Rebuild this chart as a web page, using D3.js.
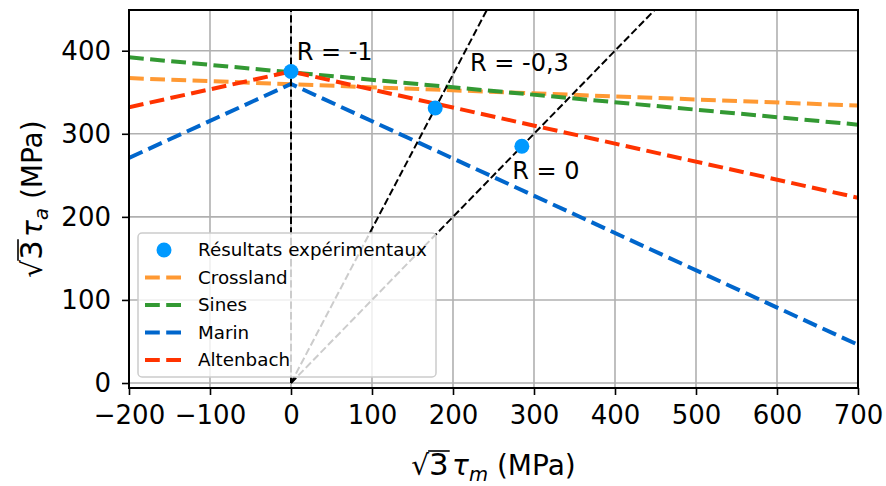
<!DOCTYPE html>
<html>
<head>
<meta charset="utf-8">
<script src="https://cdn.jsdelivr.net/npm/d3@7"></script>
<style>
  html, body { margin: 0; padding: 0; background: #fff; }
  svg { display: block; font-family: "DejaVu Sans", sans-serif; }
</style>
</head>
<body>
<svg id="chart" width="886" height="486"></svg>
<script>
// ---- data ----
const xTicks = [-200, -100, 0, 100, 200, 300, 400, 500, 600, 700];
const yTicks = [0, 100, 200, 300, 400];

const expX = [0, 178, 285];
const expY = [375, 331, 285];

const crosslandX = [-200, 700];
const crosslandY = [367, 334];
const sinesX = [-200, 700];
const sinesY = [392, 311];
const marinX = [-200, 0, 700];
const marinY = [271, 360, 46];
const altenbachX = [-200, 0, 700];
const altenbachY = [332, 375, 223];

// reference load-ratio lines (from origin)
const refLabels = ["R = -1", "R = -0,3", "R = 0"];
const refEndX = [0, 242.3, 450];
const refEndY = [450, 450, 450];
const annX = [7, 221, 273];
const annY = [389, 375, 245];

const seriesNames = ["Crossland", "Sines", "Marin", "Altenbach"];
const seriesColors = ["#ff9933", "#339933", "#0066cc", "#ff3300"];
const pointColor = "#0099ff";

// ---- layout ----
const svg = d3.select("#chart");
const L = 129, R = 858, T = 10, B = 388;
const x = d3.scaleLinear().domain([-200, 700]).range([L, R]);
const y = d3.scaleLinear().domain([-6, 449]).range([B, T]);

const defs = svg.append("defs");
defs.append("clipPath").attr("id", "clip")
  .append("rect").attr("x", L).attr("y", T).attr("width", R - L).attr("height", B - T);

// grid
const grid = svg.append("g");
grid.selectAll(".gx").data(xTicks).join("line")
  .attr("x1", d => x(d)).attr("x2", d => x(d)).attr("y1", T).attr("y2", B)
  .attr("stroke", "#b0b0b0").attr("stroke-width", 1.6);
grid.selectAll(".gy").data(yTicks).join("line")
  .attr("x1", L).attr("x2", R).attr("y1", d => y(d)).attr("y2", d => y(d))
  .attr("stroke", "#b0b0b0").attr("stroke-width", 1.6);

const plot = svg.append("g").attr("clip-path", "url(#clip)");
const line = d3.line().x(d => x(d[0])).y(d => y(d[1]));

const seriesData = [
  d3.zip(crosslandX, crosslandY),
  d3.zip(sinesX, sinesY),
  d3.zip(marinX, marinY),
  d3.zip(altenbachX, altenbachY)
];
seriesData.forEach((pts, i) => {
  plot.append("path").attr("d", line(pts))
    .attr("fill", "none").attr("stroke", seriesColors[i])
    .attr("stroke-width", 4).attr("stroke-dasharray", "14.8,6.4");
});

// reference lines
refEndX.forEach((ex, i) => {
  plot.append("path").attr("d", line([[0, 0], [ex, refEndY[i]]]))
    .attr("fill", "none").attr("stroke", "#000")
    .attr("stroke-width", 2).attr("stroke-dasharray", "7.4,3.2");
});

// experimental points
plot.selectAll(".pt").data(d3.zip(expX, expY)).join("circle")
  .attr("cx", d => x(d[0])).attr("cy", d => y(d[1])).attr("r", 7.5)
  .attr("fill", pointColor);

// annotations
refLabels.forEach((t, i) => {
  svg.append("text").attr("x", x(annX[i])).attr("y", y(annY[i]))
    .attr("font-size", 24).attr("fill", "#000").text(t);
});

// spines
svg.append("rect").attr("x", L).attr("y", T).attr("width", R - L).attr("height", B - T)
  .attr("fill", "none").attr("stroke", "#000").attr("stroke-width", 2);

// axes
const xAxis = d3.axisBottom(x).tickValues(xTicks).tickSize(7).tickPadding(11)
  .tickFormat(d => d < 0 ? "\u2212" + Math.abs(d) : String(d));
const gx = svg.append("g").attr("transform", `translate(0,${B})`).call(xAxis);
gx.select(".domain").remove();
gx.selectAll("line").attr("stroke-width", 1.6);
gx.selectAll("text").attr("font-size", 26).attr("font-family", "DejaVu Sans").attr("fill", "#000");

const yAxis = d3.axisLeft(y).tickValues(yTicks).tickSize(7).tickPadding(11);
const gy = svg.append("g").attr("transform", `translate(${L},0)`).call(yAxis);
gy.select(".domain").remove();
gy.selectAll("line").attr("stroke-width", 1.6);
gy.selectAll("text").attr("font-size", 26).attr("font-family", "DejaVu Sans").attr("fill", "#000");

// axis labels with sqrt
function sqrtLabel(g, sub, size) {
  const t = g.append("text").attr("font-size", size).attr("fill", "#000").attr("text-anchor", "middle");
  t.append("tspan").text("\u221A");
  t.append("tspan").attr("font-size", size * 1.1).text("3");
  t.append("tspan").attr("dx", size * 0.12).attr("font-style", "italic").text("\u03C4");
  t.append("tspan").attr("font-size", size * 0.7).attr("font-style", "italic").attr("dy", size * 0.22).text(sub);
  t.append("tspan").attr("dy", -size * 0.22).text(" (MPa)");
  // overline above 3
  const node = t.node();
  const e = node.getExtentOfChar(1);
  const e0 = node.getExtentOfChar(0);
  g.append("line")
    .attr("x1", e0.x + e0.width - 1).attr("x2", e.x + e.width + 1)
    .attr("y1", e0.y + 2).attr("y2", e0.y + 2)
    .attr("stroke", "#000").attr("stroke-width", 1.6);
  return t;
}
const xl = svg.append("g").attr("transform", `translate(${(L + R) / 2},475)`);
sqrtLabel(xl, "m", 28);
const yl = svg.append("g").attr("transform", `translate(42,${(T + B) / 2}) rotate(-90)`);
sqrtLabel(yl, "a", 28);

// legend
const lg = svg.append("g");
lg.append("rect").attr("x", 138).attr("y", 233).attr("width", 298).attr("height", 144)
  .attr("rx", 4).attr("fill", "#fff").attr("fill-opacity", 0.8)
  .attr("stroke", "#cccccc").attr("stroke-width", 1.5);
const rowY0 = 250, rowStep = 27.5;
lg.append("circle").attr("cx", 164).attr("cy", rowY0).attr("r", 7.5).attr("fill", pointColor);
lg.append("text").attr("x", 198).attr("y", rowY0).attr("dy", "0.35em")
  .attr("font-size", 18.3).text("Résultats expérimentaux");
seriesNames.forEach((n, i) => {
  const yy = rowY0 + rowStep * (i + 1);
  lg.append("line").attr("x1", 145).attr("x2", 183).attr("y1", yy).attr("y2", yy)
    .attr("stroke", seriesColors[i]).attr("stroke-width", 4).attr("stroke-dasharray", "14.8,6.4");
  lg.append("text").attr("x", 198).attr("y", yy).attr("dy", "0.35em")
    .attr("font-size", 18.3).text(n);
});
</script>
</body>
</html>
